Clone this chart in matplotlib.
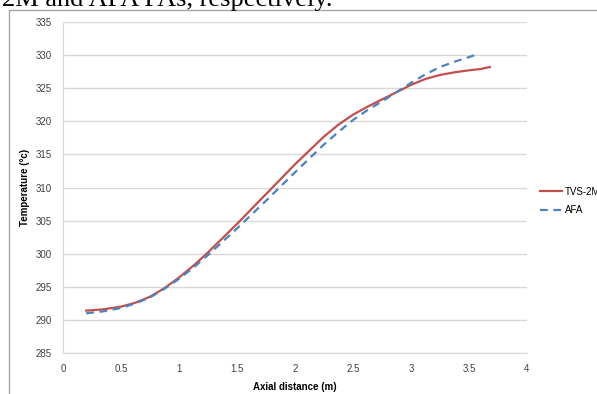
import matplotlib.pyplot as plt
from matplotlib.patches import Rectangle

# values
tvs_x = [0.2, 0.35, 0.5, 0.625, 0.75, 0.875, 1.0, 1.125, 1.25, 1.5, 1.75, 2.0, 2.25, 2.375,
         2.5, 2.625, 2.75, 2.875, 3.0, 3.125, 3.25, 3.375, 3.5, 3.6, 3.68]
tvs_y = [291.4, 291.6, 292.0, 292.6, 293.5, 294.8, 296.4, 298.2, 300.2, 304.5, 309.0, 313.5, 317.7, 319.5,
         321.0, 322.2, 323.3, 324.4, 325.5, 326.4, 327.0, 327.4, 327.7, 327.9, 328.2]
afa_x = [0.2, 0.35, 0.5, 0.625, 0.75, 0.875, 1.0, 1.125, 1.25, 1.5, 1.75, 2.0, 2.25, 2.375,
         2.5, 2.625, 2.75, 2.875, 3.0, 3.125, 3.25, 3.375, 3.5, 3.55]
afa_y = [291.0, 291.3, 291.8, 292.5, 293.4, 294.7, 296.2, 297.9, 299.8, 303.8, 308.0, 312.3, 316.5, 318.4,
         320.2, 321.7, 323.0, 324.4, 325.8, 327.1, 328.2, 329.0, 329.7, 330.0]
x_ticks = [0, 0.5, 1, 1.5, 2, 2.5, 3, 3.5, 4]
y_ticks = list(range(285, 340, 5))

plt.rcParams['font.family'] = ['Liberation Sans', 'DejaVu Sans']

fig = plt.figure(figsize=(5.97, 3.94), dpi=100)
ax = fig.add_axes([63/597, 1 - 353/394, (527-63)/597, (353-22)/394])

ax.plot(tvs_x, tvs_y, color='#c0504d', lw=1.6, label='TVS-2M')
ax.plot(afa_x, afa_y, color='#4f81bd', lw=1.6, ls=(0, (3.5, 2.5)), label='AFA')

ax.set_xlim(0, 4)
ax.set_ylim(285, 335)
ax.set_xticks(x_ticks)
ax.set_xticklabels(['0', '0.5', '1', '1.5', '2', '2.5', '3', '3.5', '4'])
ax.set_yticks(y_ticks)
ax.tick_params(length=0, labelsize=7, colors='#404040', pad=8)
ax.grid(axis='y', color='#d9d9d9', lw=1)
ax.set_axisbelow(True)
for s in ['top', 'right']:
    ax.spines[s].set_visible(False)
for s in ['left', 'bottom']:
    ax.spines[s].set_color('#d9d9d9')
ax.set_xlabel('Axial distance (m)', fontsize=7, fontweight='bold', labelpad=6)
ax.set_ylabel('Temperature (°c)', fontsize=7, fontweight='bold', labelpad=4)

fig.legend(loc='center left', bbox_to_anchor=(531/597, 1 - 201/394), frameon=False,
           fontsize=7, handlelength=2.3, labelspacing=0.9, handletextpad=0.3)

# outer chart border and clipped caption text from the page
fig.patches.append(Rectangle((9/597, -0.05), 1.2, 1 - 10/394 + 0.05, transform=fig.transFigure,
                             fill=False, ec='#a6a6a6', lw=1))
fig.text(0.003, 1.0, '2M and AFA FAs, respectively.', family='Liberation Serif',
         fontsize=19, va='center', ha='left')

fig.savefig('out.png', dpi=100)
